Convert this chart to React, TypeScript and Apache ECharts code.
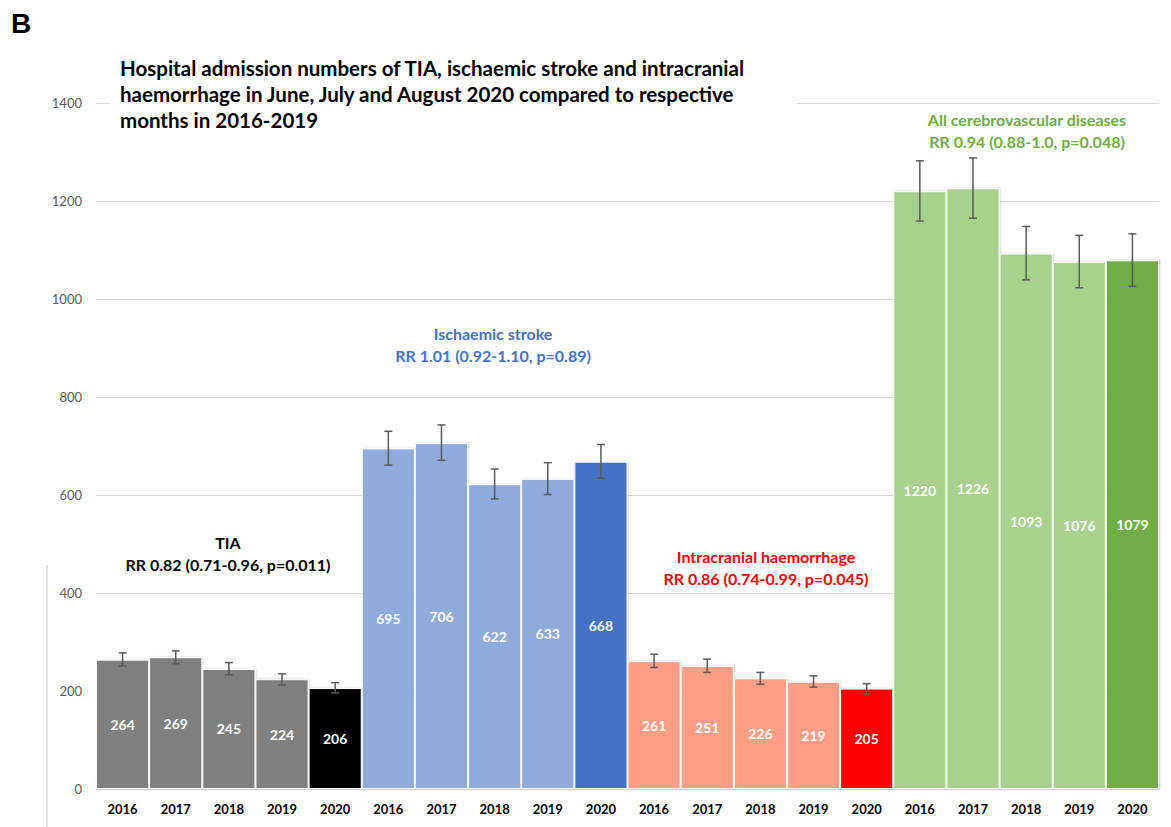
import React, { useEffect, useRef } from "react";
import * as echarts from "echarts";

const years = ["2016", "2017", "2018", "2019", "2020"];
const groups = ["TIA", "Ischaemic stroke", "Intracranial haemorrhage", "All cerebrovascular diseases"];

const tiaValues = [264, 269, 245, 224, 206];
const tiaLow = [251, 256, 233, 212, 196];
const tiaHigh = [278, 282, 258, 235, 217];

const isValues = [695, 706, 622, 633, 668];
const isLow = [661, 671, 592, 601, 634];
const isHigh = [730, 743, 653, 666, 703];

const ichValues = [261, 251, 226, 219, 205];
const ichLow = [248, 238, 214, 208, 194];
const ichHigh = [275, 265, 238, 231, 215];

const allValues = [1220, 1226, 1093, 1076, 1079];
const allLow = [1159, 1165, 1039, 1023, 1026];
const allHigh = [1282, 1288, 1148, 1130, 1133];

const lightColors = ["#7f7f7f", "#8faadc", "#ff9e84", "#a9d18e"];
const darkColors = ["#000000", "#4472c4", "#ff0000", "#70ad47"];

const yTicks = [0, 200, 400, 600, 800, 1000, 1200, 1400];

const titleText =
  "Hospital admission numbers of TIA, ischaemic stroke and intracranial\nhaemorrhage in June, July and August 2020 compared to respective\nmonths in 2016-2019";
const annTIA = "TIA\nRR 0.82 (0.71-0.96, p=0.011)";
const annIS = "Ischaemic stroke\nRR 1.01 (0.92-1.10, p=0.89)";
const annICH = "Intracranial haemorrhage\nRR 0.86 (0.74-0.99, p=0.045)";
const annALL = "All cerebrovascular diseases\nRR 0.94 (0.88-1.0, p=0.048)";

const FONT = "Lato, 'Open Sans', sans-serif";

export default function App() {
  const ref = useRef<HTMLDivElement>(null);

  useEffect(() => {
    if (!ref.current) return;
    const chart = echarts.init(ref.current, null, { renderer: "svg" });

    const valueSets = [tiaValues, isValues, ichValues, allValues];
    const lowSets = [tiaLow, isLow, ichLow, allLow];
    const highSets = [tiaHigh, isHigh, ichHigh, allHigh];

    const categories: string[] = [];
    const barData: any[] = [];
    const errData: any[] = [];
    groups.forEach((g, gi) => {
      years.forEach((y, yi) => {
        const idx = categories.length;
        categories.push(g + " " + y);
        barData.push({
          value: valueSets[gi][yi],
          itemStyle: { color: yi === years.length - 1 ? darkColors[gi] : lightColors[gi] },
        });
        errData.push([idx, lowSets[gi][yi], highSets[gi][yi]]);
      });
    });

    const textEl = (text: string, x: number, y: number, color: string, size: number, lh: number, align: string) => ({
      type: "text",
      x,
      y,
      z: 10,
      style: {
        text,
        fill: color,
        font: `bold ${size}px ${FONT}`,
        textAlign: align,
        textVerticalAlign: "top",
        lineHeight: lh,
      },
    });

    chart.setOption({
      animation: false,
      backgroundColor: "#ffffff",
      grid: { left: 96, right: 12, top: 103, bottom: 38, containLabel: false },
      xAxis: {
        type: "category",
        data: categories,
        axisLine: { show: true, lineStyle: { color: "#d9d9d9", width: 1.5 } },
        axisTick: { show: false },
        axisLabel: {
          interval: 0,
          margin: 13,
          color: "#000000",
          fontWeight: "bold",
          fontSize: 13,
          fontFamily: FONT,
          formatter: (_v: string, i: number) => years[i % years.length],
        },
      },
      yAxis: {
        type: "value",
        min: yTicks[0],
        max: yTicks[yTicks.length - 1],
        interval: 200,
        axisLine: { show: false },
        axisTick: { show: false },
        axisLabel: {
          color: "#595959",
          fontSize: 13,
          fontFamily: FONT,
          margin: 14,
          formatter: (v: number) => String(v),
        },
        splitLine: { show: true, lineStyle: { color: "#d9d9d9", width: 1 } },
      },
      series: [
        {
          type: "bar",
          data: barData,
          barCategoryGap: "0%",
          itemStyle: {
            borderColor: "#ffffff",
            borderWidth: 1,
            shadowColor: "rgba(0,0,0,0.18)",
            shadowBlur: 2,
            shadowOffsetX: 1,
          },
          label: {
            show: true,
            position: "inside",
            color: "#ffffff",
            fontSize: 14,
            fontWeight: "bold",
            fontFamily: FONT,
          },
          z: 2,
        },
        {
          type: "custom",
          data: errData,
          encode: { x: 0, y: [1, 2] },
          z: 5,
          renderItem: (_params: any, api: any) => {
            const x = api.value(0);
            const lo = api.coord([x, api.value(1)]);
            const hi = api.coord([x, api.value(2)]);
            const cap = 4;
            const style = { stroke: "#595959", lineWidth: 1.5 };
            return {
              type: "group",
              children: [
                { type: "line", shape: { x1: lo[0], y1: lo[1], x2: hi[0], y2: hi[1] }, style },
                { type: "line", shape: { x1: lo[0] - cap, y1: lo[1], x2: lo[0] + cap, y2: lo[1] }, style },
                { type: "line", shape: { x1: hi[0] - cap, y1: hi[1], x2: hi[0] + cap, y2: hi[1] }, style },
              ],
            };
          },
        },
      ],
      graphic: [
        { type: "rect", z: 1, shape: { x: 110, y: 48, width: 687, height: 88 }, style: { fill: "#ffffff" } },
        { type: "line", z: 1, shape: { x1: 47, y1: 565, x2: 47, y2: 827 }, style: { stroke: "#d9d9d9", lineWidth: 1.5 } },
        {
          type: "text",
          x: 11,
          y: 9,
          z: 10,
          style: { text: "B", fill: "#000000", font: "bold 28px 'Liberation Sans', Arial, sans-serif", textVerticalAlign: "top" },
        },
        textEl(titleText, 120, 55, "#000000", 20.5, 26, "left"),
        textEl(annTIA, 228, 531, "#000000", 16, 22, "center"),
        textEl(annIS, 493, 322, "#4472c4", 16, 22, "center"),
        textEl(annICH, 766, 545, "#ff0000", 16, 22, "center"),
        textEl(annALL, 1027, 108, "#70ad47", 16, 22, "center"),
      ],
    });

    return () => chart.dispose();
  }, []);

  return <div ref={ref} style={{ position: "fixed", left: 0, top: 0, width: 1171, height: 827 }} />;
}
